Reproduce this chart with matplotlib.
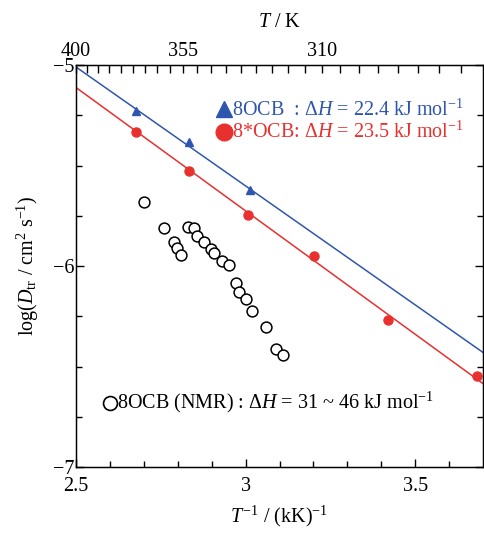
import matplotlib
matplotlib.use("Agg")
import matplotlib.pyplot as plt

plt.rcParams["font.family"] = ["Liberation Serif", "DejaVu Serif"]
plt.rcParams["mathtext.fontset"] = "custom"
plt.rcParams["mathtext.rm"] = "Liberation Serif"
plt.rcParams["mathtext.it"] = "Liberation Serif:italic"
plt.rcParams["mathtext.bf"] = "Liberation Serif:bold"

# 8OCB (blue triangles)
ocb_x = [2.678, 2.833, 3.014]
ocb_y = [-5.229, -5.381, -5.622]

# 8*OCB (red circles)
ocb_star_x = [2.676, 2.833, 3.007, 3.201, 3.421, 3.683]
ocb_star_y = [-5.332, -5.525, -5.746, -5.950, -6.269, -6.546]

# 8OCB NMR (open circles)
nmr_x = [2.700, 2.760, 2.789, 2.798, 2.810, 2.829, 2.849, 2.858, 2.878, 2.899,
         2.908, 2.929, 2.951, 2.971, 2.980, 3.001, 3.020, 3.061, 3.090, 3.111]
nmr_y = [-5.682, -5.813, -5.882, -5.912, -5.944, -5.804, -5.812, -5.851, -5.882, -5.915,
         -5.934, -5.974, -5.995, -6.083, -6.128, -6.166, -6.222, -6.303, -6.413, -6.443]

# fitted lines (end points)
fit_x = [2.5, 3.7]
ocb_fit = [-5.01, -6.43]
ocb_star_fit = [-5.112, -6.585]

# top axis temperatures
T_major = [400, 355, 310]
T_minor = list(range(275, 401, 5))

blue = "#2f56ae"
red = "#e8302f"

fig = plt.figure(figsize=(4.84, 5.33), dpi=100)
ax = fig.add_axes([76 / 484, 1 - 467 / 533, 407 / 484, 402 / 533])

ax.plot(fit_x, ocb_fit, color=blue, lw=1.1)
ax.plot(fit_x, ocb_star_fit, color=red, lw=1.1)
ax.plot(ocb_x, ocb_y, "^", color=blue, ms=6, mec=blue)
ax.plot(ocb_star_x, ocb_star_y, "o", color=red, ms=6.5, mec=red)
ax.plot(nmr_x, nmr_y, "o", mfc="white", mec="black", mew=1.1, ms=7.8)

ax.set_xlim(2.5, 3.7)
ax.set_ylim(-7, -5)
ax.set_xticks([2.5, 3.0, 3.5])
ax.set_xticklabels(["2.5", "3", "3.5"])
ax.set_xticks([2.6, 2.7, 2.8, 2.9, 3.1, 3.2, 3.3, 3.4, 3.6], minor=True)
ax.set_yticks([-7, -6, -5])
ax.set_yticklabels(["\u22127", "\u22126", "\u22125"])
ax.set_yticks([-6.75, -6.5, -6.25, -5.75, -5.5, -5.25], minor=True)
ax.tick_params(which="both", direction="in", labelsize=14.5, right=True, top=False)
ax.tick_params(axis="x", pad=7)
ax.tick_params(axis="y", pad=1)
ax.tick_params(which="major", length=6, width=1)
ax.tick_params(which="minor", length=4, width=1)
for s in ax.spines.values():
    s.set_linewidth(1.0)

ax.set_xlabel(r"$T^{-1}$ / (kK)$^{-1}$", fontsize=14.5, labelpad=6)
ax.set_ylabel(r"log($D_{\mathrm{tr}}$ / cm$^2$ s$^{-1}$)", fontsize=14.5, labelpad=9)

top = ax.twiny()
top.set_xlim(ax.get_xlim())
top.set_xticks([1000 / T for T in T_major])
top.set_xticklabels([str(T) for T in T_major])
top.set_xticks([1000 / T for T in T_minor if T not in T_major], minor=True)
top.tick_params(which="both", direction="in", labelsize=14.5, pad=3)
top.tick_params(which="major", length=6, width=1)
top.tick_params(which="minor", length=6, width=1)
top.set_xlabel(r"$T$ / K", fontsize=14.5, labelpad=11)

# annotations
ax.plot([2.936], [-5.218], "^", color=blue, ms=12, clip_on=False)
ax.text(2.960, -5.225, r"8OCB  : $\Delta H$ = 22.4 kJ mol$^{-1}$", color=blue,
        fontsize=14.5, va="center", ha="left")
ax.plot([2.935], [-5.335], "o", color=red, ms=12, clip_on=False)
ax.text(2.960, -5.335, r"8*OCB: $\Delta H$ = 23.5 kJ mol$^{-1}$", color=red,
        fontsize=14.5, va="center", ha="left")
ax.plot([2.599], [-6.68], "o", mfc="white", mec="black", mew=1.2, ms=10)
ax.text(2.622, -6.68, r"8OCB (NMR) : $\Delta H$ = 31 ~ 46 kJ mol$^{-1}$", color="black",
        fontsize=14.5, va="center", ha="left")

fig.savefig("out.png", dpi=100)
